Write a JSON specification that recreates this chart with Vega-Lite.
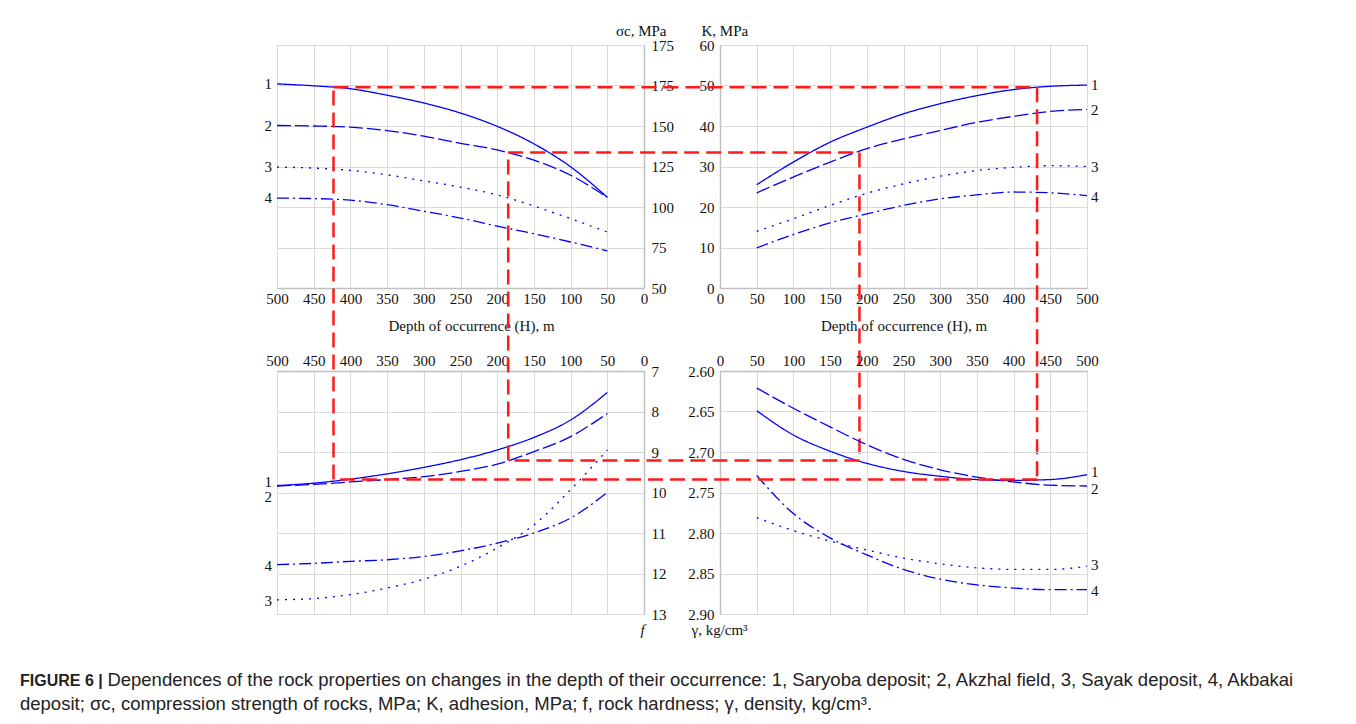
{
  "$schema": "https://vega.github.io/schema/vega-lite/v6.json",
  "padding": {"left": 20, "top": 22, "right": 5, "bottom": 5},
  "background": "#ffffff",
  "datasets": {
    "curves": [
      {"panel": "sigma", "series": "1", "depth": 500, "value": 176.0},
      {"panel": "sigma", "series": "1", "depth": 450, "value": 174.8},
      {"panel": "sigma", "series": "1", "depth": 400, "value": 173.0},
      {"panel": "sigma", "series": "1", "depth": 350, "value": 169.0},
      {"panel": "sigma", "series": "1", "depth": 300, "value": 164.2},
      {"panel": "sigma", "series": "1", "depth": 250, "value": 158.0},
      {"panel": "sigma", "series": "1", "depth": 200, "value": 149.8},
      {"panel": "sigma", "series": "1", "depth": 150, "value": 139.0},
      {"panel": "sigma", "series": "1", "depth": 100, "value": 124.8},
      {"panel": "sigma", "series": "1", "depth": 50, "value": 106.0},
      {"panel": "sigma", "series": "2", "depth": 500, "value": 150.3},
      {"panel": "sigma", "series": "2", "depth": 450, "value": 150.0},
      {"panel": "sigma", "series": "2", "depth": 400, "value": 149.3},
      {"panel": "sigma", "series": "2", "depth": 350, "value": 147.2},
      {"panel": "sigma", "series": "2", "depth": 300, "value": 143.7},
      {"panel": "sigma", "series": "2", "depth": 250, "value": 139.3},
      {"panel": "sigma", "series": "2", "depth": 200, "value": 135.2},
      {"panel": "sigma", "series": "2", "depth": 150, "value": 128.9},
      {"panel": "sigma", "series": "2", "depth": 100, "value": 119.6},
      {"panel": "sigma", "series": "2", "depth": 50, "value": 106.0},
      {"panel": "sigma", "series": "3", "depth": 500, "value": 124.6},
      {"panel": "sigma", "series": "3", "depth": 450, "value": 124.0},
      {"panel": "sigma", "series": "3", "depth": 400, "value": 122.6},
      {"panel": "sigma", "series": "3", "depth": 350, "value": 119.9},
      {"panel": "sigma", "series": "3", "depth": 300, "value": 116.1},
      {"panel": "sigma", "series": "3", "depth": 250, "value": 112.3},
      {"panel": "sigma", "series": "3", "depth": 200, "value": 107.5},
      {"panel": "sigma", "series": "3", "depth": 150, "value": 100.6},
      {"panel": "sigma", "series": "3", "depth": 100, "value": 92.8},
      {"panel": "sigma", "series": "3", "depth": 50, "value": 84.6},
      {"panel": "sigma", "series": "4", "depth": 500, "value": 105.5},
      {"panel": "sigma", "series": "4", "depth": 450, "value": 105.2},
      {"panel": "sigma", "series": "4", "depth": 400, "value": 104.2},
      {"panel": "sigma", "series": "4", "depth": 350, "value": 101.4},
      {"panel": "sigma", "series": "4", "depth": 300, "value": 97.4},
      {"panel": "sigma", "series": "4", "depth": 250, "value": 93.2},
      {"panel": "sigma", "series": "4", "depth": 200, "value": 88.2},
      {"panel": "sigma", "series": "4", "depth": 150, "value": 83.5},
      {"panel": "sigma", "series": "4", "depth": 100, "value": 78.4},
      {"panel": "sigma", "series": "4", "depth": 50, "value": 72.9},

      {"panel": "K", "series": "1", "depth": 50, "value": 25.5},
      {"panel": "K", "series": "1", "depth": 100, "value": 31.1},
      {"panel": "K", "series": "1", "depth": 150, "value": 36.0},
      {"panel": "K", "series": "1", "depth": 200, "value": 39.7},
      {"panel": "K", "series": "1", "depth": 250, "value": 43.0},
      {"panel": "K", "series": "1", "depth": 300, "value": 45.5},
      {"panel": "K", "series": "1", "depth": 350, "value": 47.5},
      {"panel": "K", "series": "1", "depth": 400, "value": 49.0},
      {"panel": "K", "series": "1", "depth": 450, "value": 49.8},
      {"panel": "K", "series": "1", "depth": 500, "value": 50.1},
      {"panel": "K", "series": "2", "depth": 50, "value": 23.5},
      {"panel": "K", "series": "2", "depth": 100, "value": 27.4},
      {"panel": "K", "series": "2", "depth": 150, "value": 31.1},
      {"panel": "K", "series": "2", "depth": 200, "value": 34.4},
      {"panel": "K", "series": "2", "depth": 250, "value": 36.8},
      {"panel": "K", "series": "2", "depth": 300, "value": 38.9},
      {"panel": "K", "series": "2", "depth": 350, "value": 40.9},
      {"panel": "K", "series": "2", "depth": 400, "value": 42.4},
      {"panel": "K", "series": "2", "depth": 450, "value": 43.6},
      {"panel": "K", "series": "2", "depth": 500, "value": 44.1},
      {"panel": "K", "series": "3", "depth": 50, "value": 14.0},
      {"panel": "K", "series": "3", "depth": 100, "value": 17.1},
      {"panel": "K", "series": "3", "depth": 150, "value": 20.4},
      {"panel": "K", "series": "3", "depth": 200, "value": 23.4},
      {"panel": "K", "series": "3", "depth": 250, "value": 25.7},
      {"panel": "K", "series": "3", "depth": 300, "value": 27.6},
      {"panel": "K", "series": "3", "depth": 350, "value": 29.0},
      {"panel": "K", "series": "3", "depth": 400, "value": 29.8},
      {"panel": "K", "series": "3", "depth": 450, "value": 30.2},
      {"panel": "K", "series": "3", "depth": 500, "value": 30.0},
      {"panel": "K", "series": "4", "depth": 50, "value": 9.9},
      {"panel": "K", "series": "4", "depth": 100, "value": 13.2},
      {"panel": "K", "series": "4", "depth": 150, "value": 16.1},
      {"panel": "K", "series": "4", "depth": 200, "value": 18.3},
      {"panel": "K", "series": "4", "depth": 250, "value": 20.4},
      {"panel": "K", "series": "4", "depth": 300, "value": 22.0},
      {"panel": "K", "series": "4", "depth": 350, "value": 23.0},
      {"panel": "K", "series": "4", "depth": 400, "value": 23.7},
      {"panel": "K", "series": "4", "depth": 450, "value": 23.5},
      {"panel": "K", "series": "4", "depth": 500, "value": 22.8},

      {"panel": "f", "series": "1", "depth": 500, "value": 9.83},
      {"panel": "f", "series": "1", "depth": 450, "value": 9.77},
      {"panel": "f", "series": "1", "depth": 400, "value": 9.67},
      {"panel": "f", "series": "1", "depth": 350, "value": 9.54},
      {"panel": "f", "series": "1", "depth": 300, "value": 9.38},
      {"panel": "f", "series": "1", "depth": 250, "value": 9.19},
      {"panel": "f", "series": "1", "depth": 200, "value": 8.95},
      {"panel": "f", "series": "1", "depth": 150, "value": 8.64},
      {"panel": "f", "series": "1", "depth": 100, "value": 8.21},
      {"panel": "f", "series": "1", "depth": 50, "value": 7.53},
      {"panel": "f", "series": "2", "depth": 500, "value": 9.84},
      {"panel": "f", "series": "2", "depth": 450, "value": 9.8},
      {"panel": "f", "series": "2", "depth": 400, "value": 9.74},
      {"panel": "f", "series": "2", "depth": 350, "value": 9.68},
      {"panel": "f", "series": "2", "depth": 300, "value": 9.61},
      {"panel": "f", "series": "2", "depth": 250, "value": 9.48},
      {"panel": "f", "series": "2", "depth": 200, "value": 9.3},
      {"panel": "f", "series": "2", "depth": 150, "value": 8.99},
      {"panel": "f", "series": "2", "depth": 100, "value": 8.62},
      {"panel": "f", "series": "2", "depth": 50, "value": 8.05},
      {"panel": "f", "series": "3", "depth": 500, "value": 12.65},
      {"panel": "f", "series": "3", "depth": 450, "value": 12.62},
      {"panel": "f", "series": "3", "depth": 400, "value": 12.52},
      {"panel": "f", "series": "3", "depth": 350, "value": 12.36},
      {"panel": "f", "series": "3", "depth": 300, "value": 12.14},
      {"panel": "f", "series": "3", "depth": 250, "value": 11.82},
      {"panel": "f", "series": "3", "depth": 200, "value": 11.37},
      {"panel": "f", "series": "3", "depth": 150, "value": 10.8},
      {"panel": "f", "series": "3", "depth": 100, "value": 9.93},
      {"panel": "f", "series": "3", "depth": 50, "value": 8.95},
      {"panel": "f", "series": "4", "depth": 500, "value": 11.78},
      {"panel": "f", "series": "4", "depth": 450, "value": 11.75},
      {"panel": "f", "series": "4", "depth": 400, "value": 11.7},
      {"panel": "f", "series": "4", "depth": 350, "value": 11.66},
      {"panel": "f", "series": "4", "depth": 300, "value": 11.58},
      {"panel": "f", "series": "4", "depth": 250, "value": 11.44},
      {"panel": "f", "series": "4", "depth": 200, "value": 11.25},
      {"panel": "f", "series": "4", "depth": 150, "value": 11.0},
      {"panel": "f", "series": "4", "depth": 100, "value": 10.63},
      {"panel": "f", "series": "4", "depth": 50, "value": 10.0},

      {"panel": "gamma", "series": "1", "depth": 50, "value": 2.649},
      {"panel": "gamma", "series": "1", "depth": 100, "value": 2.679},
      {"panel": "gamma", "series": "1", "depth": 150, "value": 2.699},
      {"panel": "gamma", "series": "1", "depth": 200, "value": 2.714},
      {"panel": "gamma", "series": "1", "depth": 250, "value": 2.724},
      {"panel": "gamma", "series": "1", "depth": 300, "value": 2.73},
      {"panel": "gamma", "series": "1", "depth": 350, "value": 2.734},
      {"panel": "gamma", "series": "1", "depth": 400, "value": 2.735},
      {"panel": "gamma", "series": "1", "depth": 450, "value": 2.734},
      {"panel": "gamma", "series": "1", "depth": 500, "value": 2.728},
      {"panel": "gamma", "series": "2", "depth": 50, "value": 2.621},
      {"panel": "gamma", "series": "2", "depth": 100, "value": 2.646},
      {"panel": "gamma", "series": "2", "depth": 150, "value": 2.669},
      {"panel": "gamma", "series": "2", "depth": 200, "value": 2.691},
      {"panel": "gamma", "series": "2", "depth": 250, "value": 2.709},
      {"panel": "gamma", "series": "2", "depth": 300, "value": 2.722},
      {"panel": "gamma", "series": "2", "depth": 350, "value": 2.731},
      {"panel": "gamma", "series": "2", "depth": 400, "value": 2.737},
      {"panel": "gamma", "series": "2", "depth": 450, "value": 2.741},
      {"panel": "gamma", "series": "2", "depth": 500, "value": 2.742},
      {"panel": "gamma", "series": "3", "depth": 50, "value": 2.781},
      {"panel": "gamma", "series": "3", "depth": 100, "value": 2.797},
      {"panel": "gamma", "series": "3", "depth": 150, "value": 2.81},
      {"panel": "gamma", "series": "3", "depth": 200, "value": 2.821},
      {"panel": "gamma", "series": "3", "depth": 250, "value": 2.831},
      {"panel": "gamma", "series": "3", "depth": 300, "value": 2.838},
      {"panel": "gamma", "series": "3", "depth": 350, "value": 2.843},
      {"panel": "gamma", "series": "3", "depth": 400, "value": 2.845},
      {"panel": "gamma", "series": "3", "depth": 450, "value": 2.845},
      {"panel": "gamma", "series": "3", "depth": 500, "value": 2.841},
      {"panel": "gamma", "series": "4", "depth": 50, "value": 2.729},
      {"panel": "gamma", "series": "4", "depth": 100, "value": 2.776},
      {"panel": "gamma", "series": "4", "depth": 150, "value": 2.806},
      {"panel": "gamma", "series": "4", "depth": 200, "value": 2.827},
      {"panel": "gamma", "series": "4", "depth": 250, "value": 2.845},
      {"panel": "gamma", "series": "4", "depth": 300, "value": 2.857},
      {"panel": "gamma", "series": "4", "depth": 350, "value": 2.864},
      {"panel": "gamma", "series": "4", "depth": 400, "value": 2.868},
      {"panel": "gamma", "series": "4", "depth": 450, "value": 2.87},
      {"panel": "gamma", "series": "4", "depth": 500, "value": 2.87}
    ],
    "labels": [
      {"panel": "sigma", "series": "1", "depth": 500, "value": 176.0},
      {"panel": "sigma", "series": "2", "depth": 500, "value": 150.3},
      {"panel": "sigma", "series": "3", "depth": 500, "value": 124.6},
      {"panel": "sigma", "series": "4", "depth": 500, "value": 105.5},
      {"panel": "K", "series": "1", "depth": 500, "value": 50.1},
      {"panel": "K", "series": "2", "depth": 500, "value": 44.0},
      {"panel": "K", "series": "3", "depth": 500, "value": 29.9},
      {"panel": "K", "series": "4", "depth": 500, "value": 22.4},
      {"panel": "f", "series": "1", "depth": 500, "value": 9.73},
      {"panel": "f", "series": "2", "depth": 500, "value": 10.1},
      {"panel": "f", "series": "4", "depth": 500, "value": 11.81},
      {"panel": "f", "series": "3", "depth": 500, "value": 12.67},
      {"panel": "gamma", "series": "1", "depth": 500, "value": 2.725},
      {"panel": "gamma", "series": "2", "depth": 500, "value": 2.746},
      {"panel": "gamma", "series": "3", "depth": 500, "value": 2.84},
      {"panel": "gamma", "series": "4", "depth": 500, "value": 2.871}
    ],
    "guides": [
      {"panel": "K", "depth": -526.6, "depth2": 432, "value": 49.56, "value2": 49.56},
      {"panel": "K", "depth": 432, "depth2": 432, "value": 49.56, "value2": -47.3},
      {"panel": "gamma", "depth": 432, "depth2": -526.6, "value": 2.734, "value2": 2.734},
      {"panel": "f", "depth": 423, "depth2": 423, "value": 9.68, "value2": 0.0},
      {"panel": "K", "depth": -288.6, "depth2": 190, "value": 33.44, "value2": 33.44},
      {"panel": "K", "depth": 190, "depth2": 190, "value": 33.44, "value2": -42.6},
      {"panel": "gamma", "depth": 190, "depth2": -288.6, "value": 2.7106, "value2": 2.7106},
      {"panel": "f", "depth": 185, "depth2": 185, "value": 9.21, "value2": 1.61}
    ]
  },
  "columns": 2,
  "spacing": {"row": 83, "column": 76},
  "bounds": "flush",
  "resolve": {"scale": {"x": "independent", "y": "independent"}},
  "title": {
    "text": "FIGURE 6 |",
    "subtitle": [
      "\u200b\u00a0\u00a0\u00a0\u00a0\u00a0\u00a0\u00a0\u00a0\u00a0\u00a0\u00a0\u00a0\u00a0\u00a0\u00a0\u00a0\u00a0Dependences of the rock properties on changes in the depth of their occurrence: 1, Saryoba deposit; 2, Akzhal field, 3, Sayak deposit, 4, Akbakai",
      "deposit; σc, compression strength of rocks, MPa; K, adhesion, MPa; f, rock hardness; γ, density, kg/cm³."
    ],
    "orient": "bottom",
    "anchor": "start",
    "frame": "bounds",
    "dx": -244,
    "offset": 35,
    "font": "Liberation Sans",
    "fontSize": 16,
    "fontWeight": "bold",
    "color": "#222222",
    "subtitleFont": "Liberation Sans",
    "subtitleFontSize": 18.5,
    "subtitleColor": "#222222",
    "subtitlePadding": -18,
    "subtitleLineHeight": 24
  },
  "config": {
    "view": {"stroke": "#c8c8c8", "strokeWidth": 1},
    "axis": {
      "labelFont": "Liberation Serif",
      "labelFontSize": 15,
      "labelColor": "#111111",
      "titleFont": "Liberation Serif",
      "titleFontSize": 15,
      "titleFontWeight": "normal",
      "titleColor": "#111111",
      "grid": true,
      "gridColor": "#dadada",
      "gridWidth": 1,
      "domainColor": "#c0c0c0",
      "domainWidth": 1.5,
      "ticks": false,
      "labelFlush": false,
      "labelOverlap": false
    },
    "text": {"font": "Liberation Serif", "fontSize": 15, "color": "#111111"}
  },
  "concat": [
    {
      "width": 367,
      "height": 243,
      "encoding": {
        "x": {"field": "depth", "type": "quantitative", "scale": {"domain": [0, 500], "reverse": true, "nice": false, "zero": false},
          "axis": {"orient": "bottom", "values": [0, 50, 100, 150, 200, 250, 300, 350, 400, 450, 500], "title": "Depth of occurrence (H), m", "labelPadding": 3, "titlePadding": 12, "titleX": 194}},
        "y": {"field": "value", "type": "quantitative", "scale": {"domain": [50, 200], "nice": false, "zero": false},
          "axis": {"orient": "right", "values": [50, 75, 100, 125, 150, 175, 200], "labelExpr": "datum.value == 200 ? '175' : datum.label", "labelPadding": 7, "title": "σc, MPa", "titleAngle": 0, "titleAlign": "right", "titleBaseline": "alphabetic", "titleX": 22, "titleY": -10}}
      },
      "layer": [
        {
          "data": {"name": "curves"},
          "transform": [{"filter": "datum.panel == 'sigma'"}],
          "mark": {"type": "line", "color": "#0000ff", "strokeWidth": 1.3, "interpolate": "monotone"},
          "encoding": {
            "strokeDash": {"field": "series", "type": "nominal", "scale": {"domain": ["1", "2", "3", "4"], "range": [[1, 0], [14, 4], [2, 6], [12, 4, 2, 4]]}, "legend": null}
          }
        },
        {
          "data": {"name": "labels"},
          "transform": [{"filter": "datum.panel == 'sigma'"}],
          "mark": {"type": "text", "align": "right", "baseline": "middle", "dx": -5},
          "encoding": {"text": {"field": "series"}}
        }
      ]
    },
    {
      "width": 367,
      "height": 243,
      "encoding": {
        "x": {"field": "depth", "type": "quantitative", "scale": {"domain": [0, 500], "nice": false, "zero": false},
          "axis": {"orient": "bottom", "values": [0, 50, 100, 150, 200, 250, 300, 350, 400, 450, 500], "title": "Depth of occurrence (H), m", "labelPadding": 3, "titlePadding": 12}},
        "y": {"field": "value", "type": "quantitative", "scale": {"domain": [0, 60], "nice": false, "zero": false},
          "axis": {"orient": "left", "values": [0, 10, 20, 30, 40, 50, 60], "labelPadding": 6, "title": "K, MPa", "titleAngle": 0, "titleAlign": "left", "titleBaseline": "alphabetic", "titleX": -19, "titleY": -10}}
      },
      "layer": [
        {
          "data": {"name": "curves"},
          "transform": [{"filter": "datum.panel == 'K'"}],
          "mark": {"type": "line", "color": "#0000ff", "strokeWidth": 1.3, "interpolate": "monotone"},
          "encoding": {
            "strokeDash": {"field": "series", "type": "nominal", "scale": {"domain": ["1", "2", "3", "4"], "range": [[1, 0], [14, 4], [2, 6], [12, 4, 2, 4]]}, "legend": null}
          }
        },
        {
          "data": {"name": "labels"},
          "transform": [{"filter": "datum.panel == 'K'"}],
          "mark": {"type": "text", "align": "left", "baseline": "middle", "dx": 4},
          "encoding": {"text": {"field": "series"}}
        },
        {
          "data": {"name": "guides"},
          "transform": [{"filter": "datum.panel == 'K'"}],
          "mark": {"type": "rule", "color": "#ff1a1a", "strokeWidth": 2.5, "strokeDash": [15, 7]},
          "encoding": {"x2": {"field": "depth2"}, "y2": {"field": "value2"}}
        }
      ]
    },
    {
      "width": 367,
      "height": 243,
      "encoding": {
        "x": {"field": "depth", "type": "quantitative", "scale": {"domain": [0, 500], "reverse": true, "nice": false, "zero": false},
          "axis": {"orient": "top", "values": [0, 50, 100, 150, 200, 250, 300, 350, 400, 450, 500], "title": null, "labelPadding": 3}},
        "y": {"field": "value", "type": "quantitative", "scale": {"domain": [7, 13], "reverse": true, "nice": false, "zero": false},
          "axis": {"orient": "right", "values": [7, 8, 9, 10, 11, 12, 13], "labelPadding": 7, "title": "f", "titleFontStyle": "italic", "titleAngle": 0, "titleAlign": "center", "titleBaseline": "alphabetic", "titleX": -2, "titleY": 263}}
      },
      "layer": [
        {
          "data": {"name": "curves"},
          "transform": [{"filter": "datum.panel == 'f'"}],
          "mark": {"type": "line", "color": "#0000ff", "strokeWidth": 1.3, "interpolate": "monotone"},
          "encoding": {
            "strokeDash": {"field": "series", "type": "nominal", "scale": {"domain": ["1", "2", "3", "4"], "range": [[1, 0], [14, 4], [2, 6], [12, 4, 2, 4]]}, "legend": null}
          }
        },
        {
          "data": {"name": "labels"},
          "transform": [{"filter": "datum.panel == 'f'"}],
          "mark": {"type": "text", "align": "right", "baseline": "middle", "dx": -5},
          "encoding": {"text": {"field": "series"}}
        },
        {
          "data": {"name": "guides"},
          "transform": [{"filter": "datum.panel == 'f'"}],
          "mark": {"type": "rule", "color": "#ff1a1a", "strokeWidth": 2.5, "strokeDash": [15, 7]},
          "encoding": {"x2": {"field": "depth2"}, "y2": {"field": "value2"}}
        }
      ]
    },
    {
      "width": 367,
      "height": 243,
      "encoding": {
        "x": {"field": "depth", "type": "quantitative", "scale": {"domain": [0, 500], "nice": false, "zero": false},
          "axis": {"orient": "top", "values": [0, 50, 100, 150, 200, 250, 300, 350, 400, 450, 500], "title": null, "labelPadding": 3}},
        "y": {"field": "value", "type": "quantitative", "scale": {"domain": [2.6, 2.9], "reverse": true, "nice": false, "zero": false},
          "axis": {"orient": "left", "values": [2.6, 2.65, 2.7, 2.75, 2.8, 2.85, 2.9], "format": ".2f", "labelPadding": 6, "title": "γ, kg/cm³", "titleAngle": 0, "titleAlign": "left", "titleBaseline": "alphabetic", "titleX": -29, "titleY": 263}}
      },
      "layer": [
        {
          "data": {"name": "curves"},
          "transform": [{"filter": "datum.panel == 'gamma'"}],
          "mark": {"type": "line", "color": "#0000ff", "strokeWidth": 1.3, "interpolate": "monotone"},
          "encoding": {
            "strokeDash": {"field": "series", "type": "nominal", "scale": {"domain": ["1", "2", "3", "4"], "range": [[1, 0], [14, 4], [2, 6], [12, 4, 2, 4]]}, "legend": null}
          }
        },
        {
          "data": {"name": "labels"},
          "transform": [{"filter": "datum.panel == 'gamma'"}],
          "mark": {"type": "text", "align": "left", "baseline": "middle", "dx": 4},
          "encoding": {"text": {"field": "series"}}
        },
        {
          "data": {"name": "guides"},
          "transform": [{"filter": "datum.panel == 'gamma'"}],
          "mark": {"type": "rule", "color": "#ff1a1a", "strokeWidth": 2.5, "strokeDash": [15, 7]},
          "encoding": {"x2": {"field": "depth2"}, "y2": {"field": "value2"}}
        }
      ]
    }
  ]
}
